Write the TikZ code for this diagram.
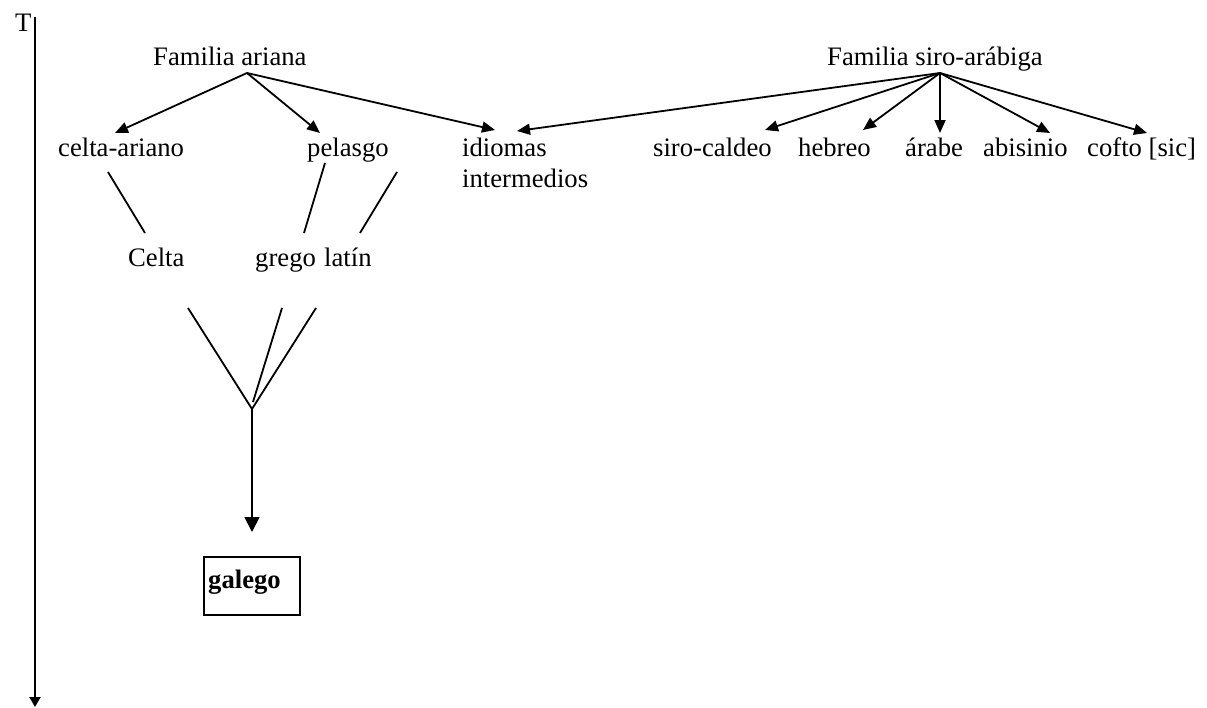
\documentclass[tikz,border=0pt]{standalone}
\usepackage{fontspec}
\setmainfont{Liberation Serif}
\usetikzlibrary{arrows.meta}
\begin{document}
\begin{tikzpicture}[x=1pt, y=-1pt,
  font=\fontsize{26.67}{31}\selectfont,
  lbl/.style={anchor=base west, inner sep=0pt},
  conn/.style={line width=1.8pt},
  arr/.style={conn, -{Triangle[length=13pt,width=11pt]}},
  bigarr/.style={conn, -{Triangle[length=15pt,width=15pt]}},
  axisarr/.style={line width=2pt, -{Triangle[length=10pt,width=11pt]}}]
\useasboundingbox (0,0) rectangle (1207,707);

% time axis
\node[lbl] (T) at (15,31) {T};
\coordinate (axtop) at (35,17);
\coordinate (axbot) at (35,707);
\draw[axisarr] (axtop) -- (axbot);

% the two families
\node[lbl] (fa) at (153,65) {Familia ariana};
\node[lbl] (fs) at (827,65) {Familia siro-arábiga};
\coordinate (ao) at (247,73);
\coordinate (so) at (940,73);

% second row
\node[lbl] (cel) at (58,156) {celta-ariano};
\node[lbl] (pel) at (307,156) {pelasgo};
\node[lbl] (idi) at (462,156) {idiomas};
\node[lbl] (idib) at (462,187) {intermedios};
\node[lbl] (sc) at (653,156) {siro-caldeo};
\node[lbl] (heb) at (798,156) {hebreo};
\node[lbl] (ara) at (905,156) {árabe};
\node[lbl] (abi) at (983,156) {abisinio};
\node[lbl] (cof) at (1087,156) {cofto [sic]};

% arrow tips above the second row
\coordinate (tcel) at (115,133);
\coordinate (tpel) at (320,133);
\coordinate (tidl) at (495,130);
\coordinate (tidr) at (517,131);
\coordinate (tsc) at (765,130);
\coordinate (theb) at (863,130);
\coordinate (tara) at (940,133);
\coordinate (tabi) at (1050,133);
\coordinate (tcof) at (1147,133);

\draw[arr] (ao) -- (tcel);
\draw[arr] (ao) -- (tpel);
\draw[arr] (ao) -- (tidl);
\draw[arr] (so) -- (tidr);
\draw[arr] (so) -- (tsc);
\draw[arr] (so) -- (theb);
\draw[arr] (so) -- (tara);
\draw[arr] (so) -- (tabi);
\draw[arr] (so) -- (tcof);

% third row
\node[lbl] (cel3) at (128,266) {Celta};
\node[lbl] (gre) at (255,266) {grego};
\node[lbl] (lat) at (324,266) {latín};

\coordinate (l1a) at (108,172); \coordinate (l1b) at (145,233);
\coordinate (l2a) at (325,163); \coordinate (l2b) at (304,233);
\coordinate (l3a) at (397,172); \coordinate (l3b) at (360,233);
\draw[conn] (l1a) -- (l1b);
\draw[conn] (l2a) -- (l2b);
\draw[conn] (l3a) -- (l3b);

% merging into one
\coordinate (ya) at (188,308);
\coordinate (yb) at (282,308);
\coordinate (yc) at (316,308);
\coordinate (yj) at (252,409);
\coordinate (ybm) at (253,402);
\draw[conn] (ya) -- (yj) -- (yc);
\draw[conn] (yb) -- (ybm);

% result
\draw[line width=1.5pt] (204,557) rectangle (300,615);
\node[lbl, font=\fontsize{26.67}{31}\selectfont\bfseries] (gal) at (208,588) {galego};
\coordinate (gtop) at (252,532);
\draw[bigarr] (yj) -- (gtop);
\end{tikzpicture}
\end{document}
